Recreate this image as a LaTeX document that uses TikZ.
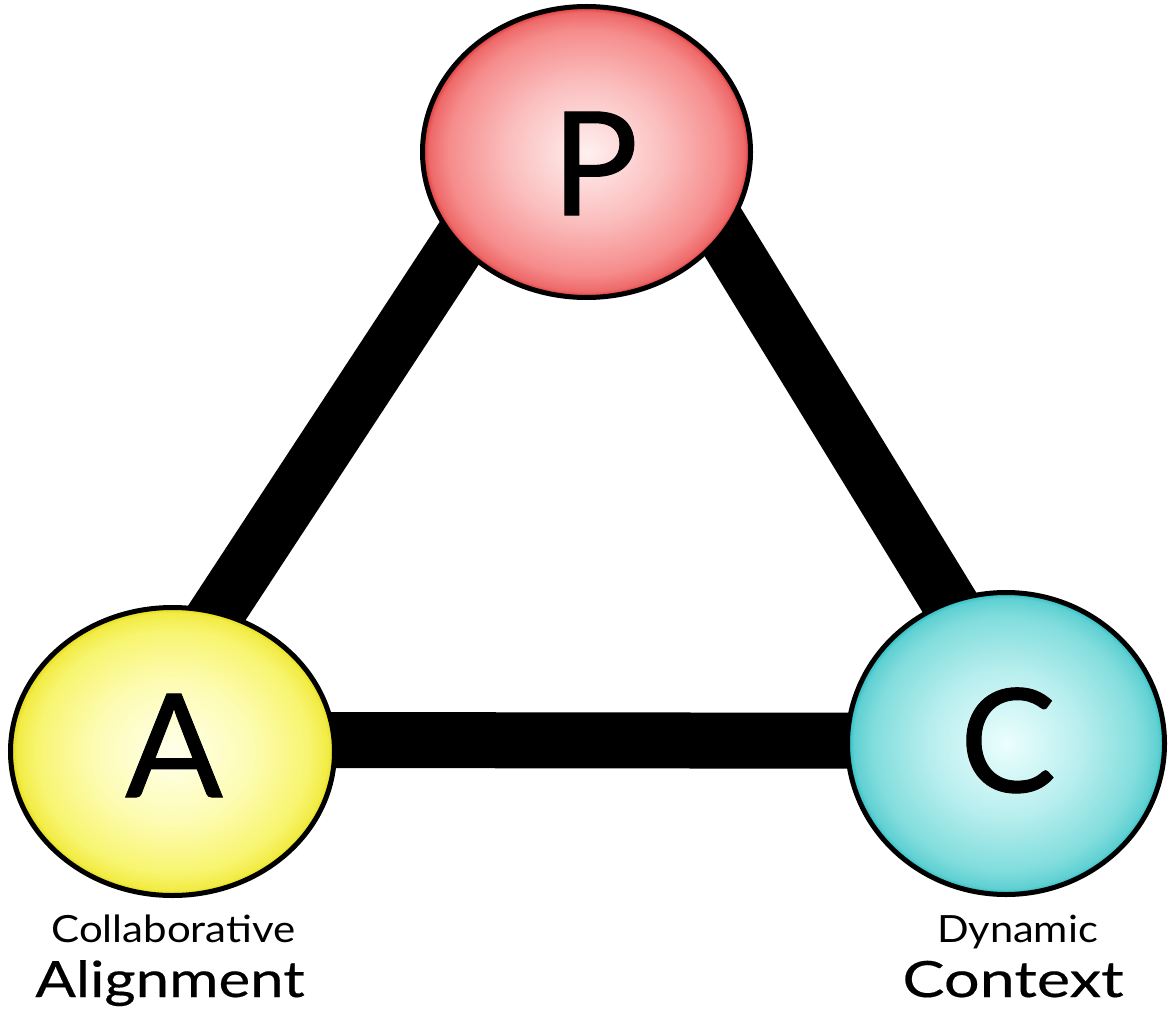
\documentclass[tikz,border=0pt]{standalone}
\usepackage{fontspec}
\setmainfont{Lato}
\newfontfamily\letterfont[FakeBold=0.7]{Lato}
\newfontfamily\captionfont[FakeBold=0.35]{Lato}
\usetikzlibrary{shapes.geometric}
\pgfdeclarelayer{background}
\pgfsetlayers{background,main}

% bubble colours: centre, inner, body, rim, edge
\definecolor{pIn}{RGB}{255,240,240}
\definecolor{pMid}{RGB}{251,190,190}
\definecolor{pBody}{RGB}{246,140,140}
\definecolor{pRim}{RGB}{238,105,105}
\definecolor{pEdge}{RGB}{222,52,52}
\definecolor{aIn}{RGB}{255,255,236}
\definecolor{aMid}{RGB}{253,252,180}
\definecolor{aBody}{RGB}{248,245,112}
\definecolor{aRim}{RGB}{242,236,70}
\definecolor{aEdge}{RGB}{226,216,18}
\definecolor{cIn}{RGB}{236,254,254}
\definecolor{cMid}{RGB}{184,238,238}
\definecolor{cBody}{RGB}{130,221,221}
\definecolor{cRim}{RGB}{96,208,210}
\definecolor{cEdge}{RGB}{34,188,195}

\pgfdeclareradialshading{pShade}{\pgfpoint{0bp}{0bp}}{color(0bp)=(pIn); color(12bp)=(pMid); color(21bp)=(pBody); color(24bp)=(pRim); color(25bp)=(pEdge); color(50bp)=(pEdge)}
\pgfdeclareradialshading{aShade}{\pgfpoint{0bp}{0bp}}{color(0bp)=(aIn); color(12bp)=(aMid); color(21bp)=(aBody); color(24bp)=(aRim); color(25bp)=(aEdge); color(50bp)=(aEdge)}
\pgfdeclareradialshading{cShade}{\pgfpoint{0bp}{0bp}}{color(0bp)=(cIn); color(12bp)=(cMid); color(21bp)=(cBody); color(24bp)=(cRim); color(25bp)=(cEdge); color(50bp)=(cEdge)}

\tikzset{
  bubble/.style={ellipse, draw=black, line width=5pt, inner sep=0pt},
  bar/.style={line width=56pt, black, shorten <=-30pt, shorten >=-30pt},
  letter/.style={anchor=base, inner sep=0pt, font=\letterfont\fontsize{144}{150}\selectfont},
  small/.style={anchor=base, inner sep=0pt, font=\fontsize{37.5}{42}\selectfont},
  big/.style={anchor=base, inner sep=0pt, font=\captionfont\fontsize{50}{54}\selectfont}
}

\begin{document}
\begin{tikzpicture}[x=1pt, y=-1pt]
  \begin{pgfonlayer}{background}
    \fill[white] (0,0) rectangle (1169,1019);
  \end{pgfonlayer}
  \useasboundingbox (0,0) rectangle (1169,1019);

  % the three bubbles
  \node[bubble, shading=pShade, minimum width=328pt, minimum height=291pt] (P) at (586.5,152) {};
  \node[bubble, shading=aShade, minimum width=324pt, minimum height=288pt] (A) at (172.5,751.5) {};
  \node[bubble, shading=cShade, minimum width=317pt, minimum height=302pt] (C) at (1006,743.5) {};

  % thick links behind the bubbles
  \begin{pgfonlayer}{background}
    \draw[bar] (A.72) -- (P.216);
    \draw[bar] (P.329) -- (C.112);
    \draw[bar] (A.4) -- (C.179);
  \end{pgfonlayer}

  % bubble letters
  \node[letter] (Pl) at (595,215) {P};
  \node[letter] (Al) at (174,797) {A};
  \node[letter] (Cl) at (1008,792) {C};

  % captions
  \node[small] (collab) at (173.5,942) {\scalebox{1.12}[1]{Collaborative}};
  \node[big] (align) at (170,997) {\scalebox{1.2}[1]{Alignment}};
  \node[small] (dyn) at (1017.5,942) {\scalebox{1.11}[1]{Dynamic}};
  \node[big] (ctx) at (1013,997) {\scalebox{1.26}[1]{Context}};
\end{tikzpicture}
\end{document}
